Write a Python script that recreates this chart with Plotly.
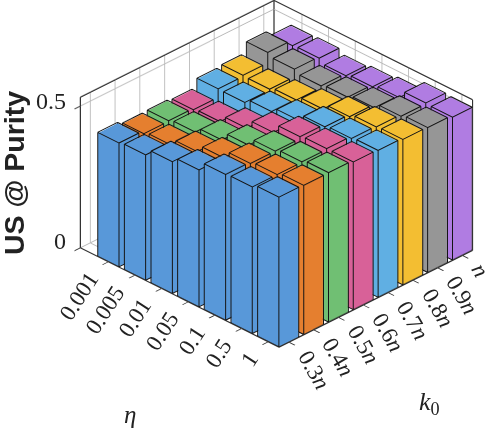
import plotly.graph_objects as go

eta_labels = ["0.001", "0.005", "0.01", "0.05", "0.1", "0.5", "1"]
k_labels = ["0.3<i>n</i>", "0.4<i>n</i>", "0.5<i>n</i>", "0.6<i>n</i>", "0.7<i>n</i>", "0.8<i>n</i>", "0.9<i>n</i>", "<i>n</i>"]
colors = ["#5898D9", "#E57F2F", "#70BF73", "#D86198", "#60AFE3", "#F3BE32", "#969696", "#B07CE2"]

v_03 = [.438, .443, .466, .484, .515, .518, .529]
v_04 = [.427, .435, .458, .483, .510, .518, .527]
v_05 = [.429, .436, .455, .484, .510, .519, .528]
v_06 = [.424, .429, .453, .485, .517, .522, .522]
v_07 = [.454, .453, .468, .485, .508, .514, .519]
v_08 = [.458, .456, .465, .480, .500, .511, .514]
v_09 = [.495, .483, .471, .478, .488, .505, .512]
v_10 = [.475, .478, .463, .471, .480, .508, .505]
series = [v_03, v_04, v_05, v_06, v_07, v_08, v_09, v_10]

XR = [-1.05, 6.41]
YR = [-0.41, 7.41]
ZR = [0, 0.532]
W = 0.4
INSET = 0.012
SERIF = "Liberation Serif"
D = 2.0
CX, CY, CZ = -0.0408, -0.1738, -0.1627
PW, PH = 488, 428

fig = go.Figure()
ex, ey, ez = [], [], []
for j, vals in enumerate(series):
    X, Y, Z, I, J, K = [], [], [], [], [], []
    for i, h in enumerate(vals):
        b = len(X)
        m = W - INSET
        for z in (0, h - 0.002):
            for dx, dy in ((-m, -m), (m, -m), (m, m), (-m, m)):
                X.append(i + dx); Y.append(j + dy); Z.append(z)
        quads = [(0, 1, 2, 3), (4, 5, 6, 7), (0, 1, 5, 4), (1, 2, 6, 5), (2, 3, 7, 6), (3, 0, 4, 7)]
        for a, c, d, e in quads:
            I += [b + a, b + a]; J += [b + c, b + d]; K += [b + d, b + e]
        corner = [(i + dx, j + dy, z) for z in (0.001, h) for dx, dy in ((-W, -W), (W, -W), (W, W), (-W, W))]
        edges = [(0, 1), (1, 2), (2, 3), (3, 0), (4, 5), (5, 6), (6, 7), (7, 4), (0, 4), (1, 5), (2, 6), (3, 7)]
        for p, q in edges:
            ex += [corner[p][0], corner[q][0], None]
            ey += [corner[p][1], corner[q][1], None]
            ez += [corner[p][2], corner[q][2], None]
    fig.add_trace(go.Mesh3d(x=X, y=Y, z=Z, i=I, j=J, k=K, color=colors[j], flatshading=True,
                            lighting=dict(ambient=1, diffuse=0, specular=0, fresnel=0, roughness=1),
                            hoverinfo="skip", showscale=False))
fig.add_trace(go.Scatter3d(x=ex, y=ey, z=ez, mode="lines", line=dict(color="#151515", width=2),
                           hoverinfo="skip", showlegend=False))

# axes box, inset a hair so the range clipping does not break the lines
x0, x1 = XR[0] + 0.005, XR[1] - 0.005
y0, y1 = YR[0] + 0.005, YR[1] - 0.005
z0, z1 = ZR[0] + 0.0004, ZR[1] - 0.0004
bx = [x0, x0, x1, None, x0, x1, x1, None, x0, x0, None, x1, x1, None, x0, x0]
by = [y0, y1, y1, None, y0, y0, y1, None, y0, y0, None, y1, y1, None, y1, y1]
bz = [z1, z1, z1, None, z0, z0, z0, None, z0, z1, None, z0, z1, None, z0, z1]
fig.add_trace(go.Scatter3d(x=bx, y=by, z=bz, mode="lines", line=dict(color="#333333", width=2.4),
                           hoverinfo="skip", showlegend=False))

ann = []
for i, t in enumerate(eta_labels):
    ann.append(dict(x=i, y=YR[0], z=0, text=t, textangle=-57, showarrow=False, xanchor="right", yanchor="top",
                    xshift=-2, yshift=-3, font=dict(family=SERIF, size=23, color="#222")))
for j, t in enumerate(k_labels):
    ann.append(dict(x=XR[1], y=j, z=0, text=t, textangle=60, showarrow=False, xanchor="left", yanchor="top",
                    xshift=1, yshift=-1, font=dict(family=SERIF, size=23, color="#222")))
for z, t, s in ((0, "0", 7), (0.5, "0.5", 5)):
    ann.append(dict(x=XR[0], y=YR[0], z=z, text=t, showarrow=False, xanchor="right", yanchor="middle", xshift=-12, yshift=s,
                    font=dict(family=SERIF, size=24, color="#222")))

axis = dict(showbackground=False, showgrid=True, gridcolor="#b8b8b8", gridwidth=2,
            zeroline=False, showline=False, showticklabels=False, title=dict(text=""), ticks="outside", ticklen=8,
            tickcolor="#333333", tickwidth=2, showspikes=False)

fig.update_layout(
    width=PW, height=PH, margin=dict(l=0, r=0, t=0, b=0), paper_bgcolor="white", showlegend=False,
    scene=dict(
        domain=dict(x=[0, 1], y=[0, 1]),
        aspectmode="manual", aspectratio=dict(x=1.314, y=1.281, z=0.814),
        camera=dict(projection=dict(type="orthographic"), up=dict(x=0, y=0, z=1), center=dict(x=CX, y=CY, z=CZ),
                    eye=dict(x=CX + 0.612 * D, y=CY - 0.612 * D, z=CZ + 0.5 * D)),
        xaxis=dict(axis, range=XR, tickvals=list(range(len(eta_labels)))),
        yaxis=dict(axis, range=YR, tickvals=list(range(len(k_labels)))),
        zaxis=dict(axis, range=ZR, tickvals=[0, 0.5]),
        annotations=ann,
    ),
    annotations=[
        dict(xref="paper", yref="paper", x=14 / PW, y=1 - 173 / PH, text="<b>US @ Purity</b>", textangle=-90, showarrow=False,
             xanchor="center", yanchor="middle", font=dict(family="Liberation Sans", size=28.5, color="#222")),
        dict(xref="paper", yref="paper", x=130 / PW, y=1 - 414 / PH, text="<i>η</i>", showarrow=False,
             xanchor="center", yanchor="middle", font=dict(family=SERIF, size=25, color="#222")),
        dict(xref="paper", yref="paper", x=429 / PW, y=1 - 403 / PH, text="<i>k</i><sub>0</sub>", showarrow=False,
             xanchor="center", yanchor="middle", font=dict(family=SERIF, size=26, color="#222")),
    ],
)
fig.write_html("out.html", post_script="document.body.style.margin='0';", config={"displayModeBar": False})
